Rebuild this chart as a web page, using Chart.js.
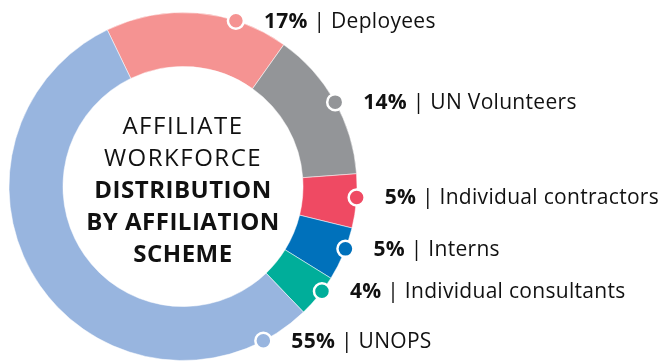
<!DOCTYPE html>
<html>
<head>
<meta charset="utf-8">
<script src="https://cdn.jsdelivr.net/npm/chart.js@4/dist/chart.umd.min.js"></script>
<style>
  html, body { margin: 0; padding: 0; background: #fff; overflow: hidden; }
  #wrap { width: 664px; height: 361px; position: relative; }
</style>
</head>
<body>
<div id="wrap"><canvas id="donut"></canvas></div>
<script>
// ==========================
// DATA
// ==========================
const categories = ['Deployees', 'UN Volunteers', 'Individual contractors', 'Interns', 'Individual consultants', 'UNOPS'];
const shares = [17, 14, 5, 5, 4, 55];
const colours = ['#F59392', '#939598', '#EF4A63', '#0071BB', '#00AE9A', '#98B5DF'];

// where each label dot sits on the outer edge (degrees, clockwise from top)
const dotAngles = [17.7, 61, 93.6, 111, 127, 152.5];

const centreLines = [
    ['AFFILIATE', false],
    ['WORKFORCE', false],
    ['DISTRIBUTION', true],
    ['BY AFFILIATION', true],
    ['SCHEME', true]
];

const FONT = '"Open Sans", Lato, sans-serif';

// ==========================
// LABELS + CENTRE TEXT
// ==========================
const labelPlugin = {
    id: 'labelPlugin',
    afterDatasetsDraw(chart) {
        const ctx = chart.ctx;
        const meta = chart.getDatasetMeta(0);
        const arc0 = meta.data[0];
        const cx = arc0.x, cy = arc0.y;
        const r = arc0.outerRadius;

        ctx.save();

        // centre text
        ctx.fillStyle = '#111';
        ctx.textAlign = 'center';
        ctx.textBaseline = 'middle';
        centreLines.forEach((line, i) => {
            ctx.font = (line[1] ? 'bold ' : '') + '24px ' + FONT;
            ctx.letterSpacing = line[1] ? '0.5px' : '1.5px';
            ctx.fillText(line[0], cx, cy - 59 + i * 32);
        });

        // dots and labels
        ctx.letterSpacing = '0.3px';
        meta.data.forEach((arc, i) => {
            const a = dotAngles[i] * Math.PI / 180;
            const x = cx + r * Math.sin(a);
            const y = cy - r * Math.cos(a);

            ctx.beginPath();
            ctx.arc(x, y, 8, 0, Math.PI * 2);
            ctx.fillStyle = colours[i];
            ctx.fill();
            ctx.lineWidth = 2.5;
            ctx.strokeStyle = '#fff';
            ctx.stroke();

            ctx.textAlign = 'left';
            ctx.textBaseline = 'middle';
            ctx.fillStyle = '#111';
            let tx = x + 28;
            const pct = shares[i] + '%';
            ctx.font = 'bold 21px ' + FONT;
            ctx.fillText(pct, tx, y + 1);
            tx += ctx.measureText(pct).width;
            ctx.font = '21px ' + FONT;
            ctx.fillText(' | ' + categories[i], tx, y + 1);
        });

        ctx.restore();
    }
};

// ==========================
// CHART
// ==========================
const chart = new Chart(document.getElementById('donut'), {
    type: 'doughnut',
    data: {
        labels: categories,
        datasets: [{
            data: shares,
            backgroundColor: colours,
            borderColor: 'rgba(255,255,255,0.5)',
            borderWidth: 1
        }]
    },
    options: {
        responsive: true,
        maintainAspectRatio: false,
        animation: false,
        rotation: -25.8,
        cutout: '69%',
        layout: { padding: { left: 8, right: 306, top: 12, bottom: 0 } },
        plugins: {
            legend: { display: false },
            tooltip: { enabled: false }
        }
    },
    plugins: [labelPlugin]
});
</script>
</body>
</html>
